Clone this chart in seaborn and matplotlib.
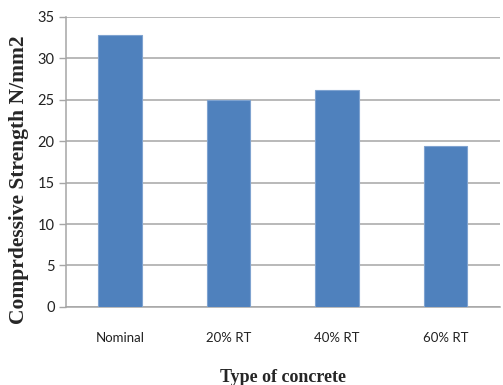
import matplotlib
matplotlib.use("Agg")
import matplotlib.pyplot as plt
import seaborn as sns
import pandas as pd

categories = ["Nominal", "20% RT", "40% RT", "60% RT"]
strength = [32.8, 25.0, 26.2, 19.4]
y_ticks = [0, 5, 10, 15, 20, 25, 30, 35]

df = pd.DataFrame({"Type": categories, "Strength": strength})

sns.set_style("white")
fig = plt.figure(figsize=(5.03, 3.85), dpi=100)
ax = fig.add_axes([0.131, 0.203, 0.863, 0.753])

sns.barplot(data=df, x="Type", y="Strength", color="#4F81BD", saturation=1,
            width=0.4, edgecolor="#7FA3D0", linewidth=0.8, ax=ax, zorder=3)

ax.set_ylim(0, 35)
ax.set_xlim(-0.5, 3.5)
ax.set_yticks(y_ticks)
ax.yaxis.grid(True, color="#A6A6A6", linewidth=1.1, zorder=0)
ax.set_axisbelow(True)

for side in ["top", "right"]:
    ax.spines[side].set_visible(False)
for side in ["left", "bottom"]:
    ax.spines[side].set_color("#A6A6A6")
    ax.spines[side].set_linewidth(1.1)

# category separators on the x axis
ax.set_xticks([0.5, 1.5, 2.5], minor=True)
ax.tick_params(axis="x", which="minor", length=5, width=1, color="#A6A6A6", direction="out")
ax.tick_params(axis="x", which="major", length=0, pad=18, labelsize=9.5)
ax.tick_params(axis="y", which="major", length=5, width=1, color="#A6A6A6",
               direction="out", left=True, pad=3, labelsize=10.5)
for lbl in ax.get_xticklabels() + ax.get_yticklabels():
    lbl.set_family(["Lato", "DejaVu Sans"])
    lbl.set_color("#222222")

ax.set_xlabel("")
ax.set_ylabel("")
fig.text((66 + 500) / 2 / 503, 1 - 377 / 385, "Type of concrete", fontsize=13,
         fontweight="bold", family="Liberation Serif", ha="center", va="center")
fig.text(19 / 503, 1 - 180 / 385, "Comprdessive Strength N/mm2", fontsize=15.5,
         fontweight="bold", family="Liberation Serif", ha="center", va="center",
         rotation=90)

fig.savefig("out.png", dpi=100)
